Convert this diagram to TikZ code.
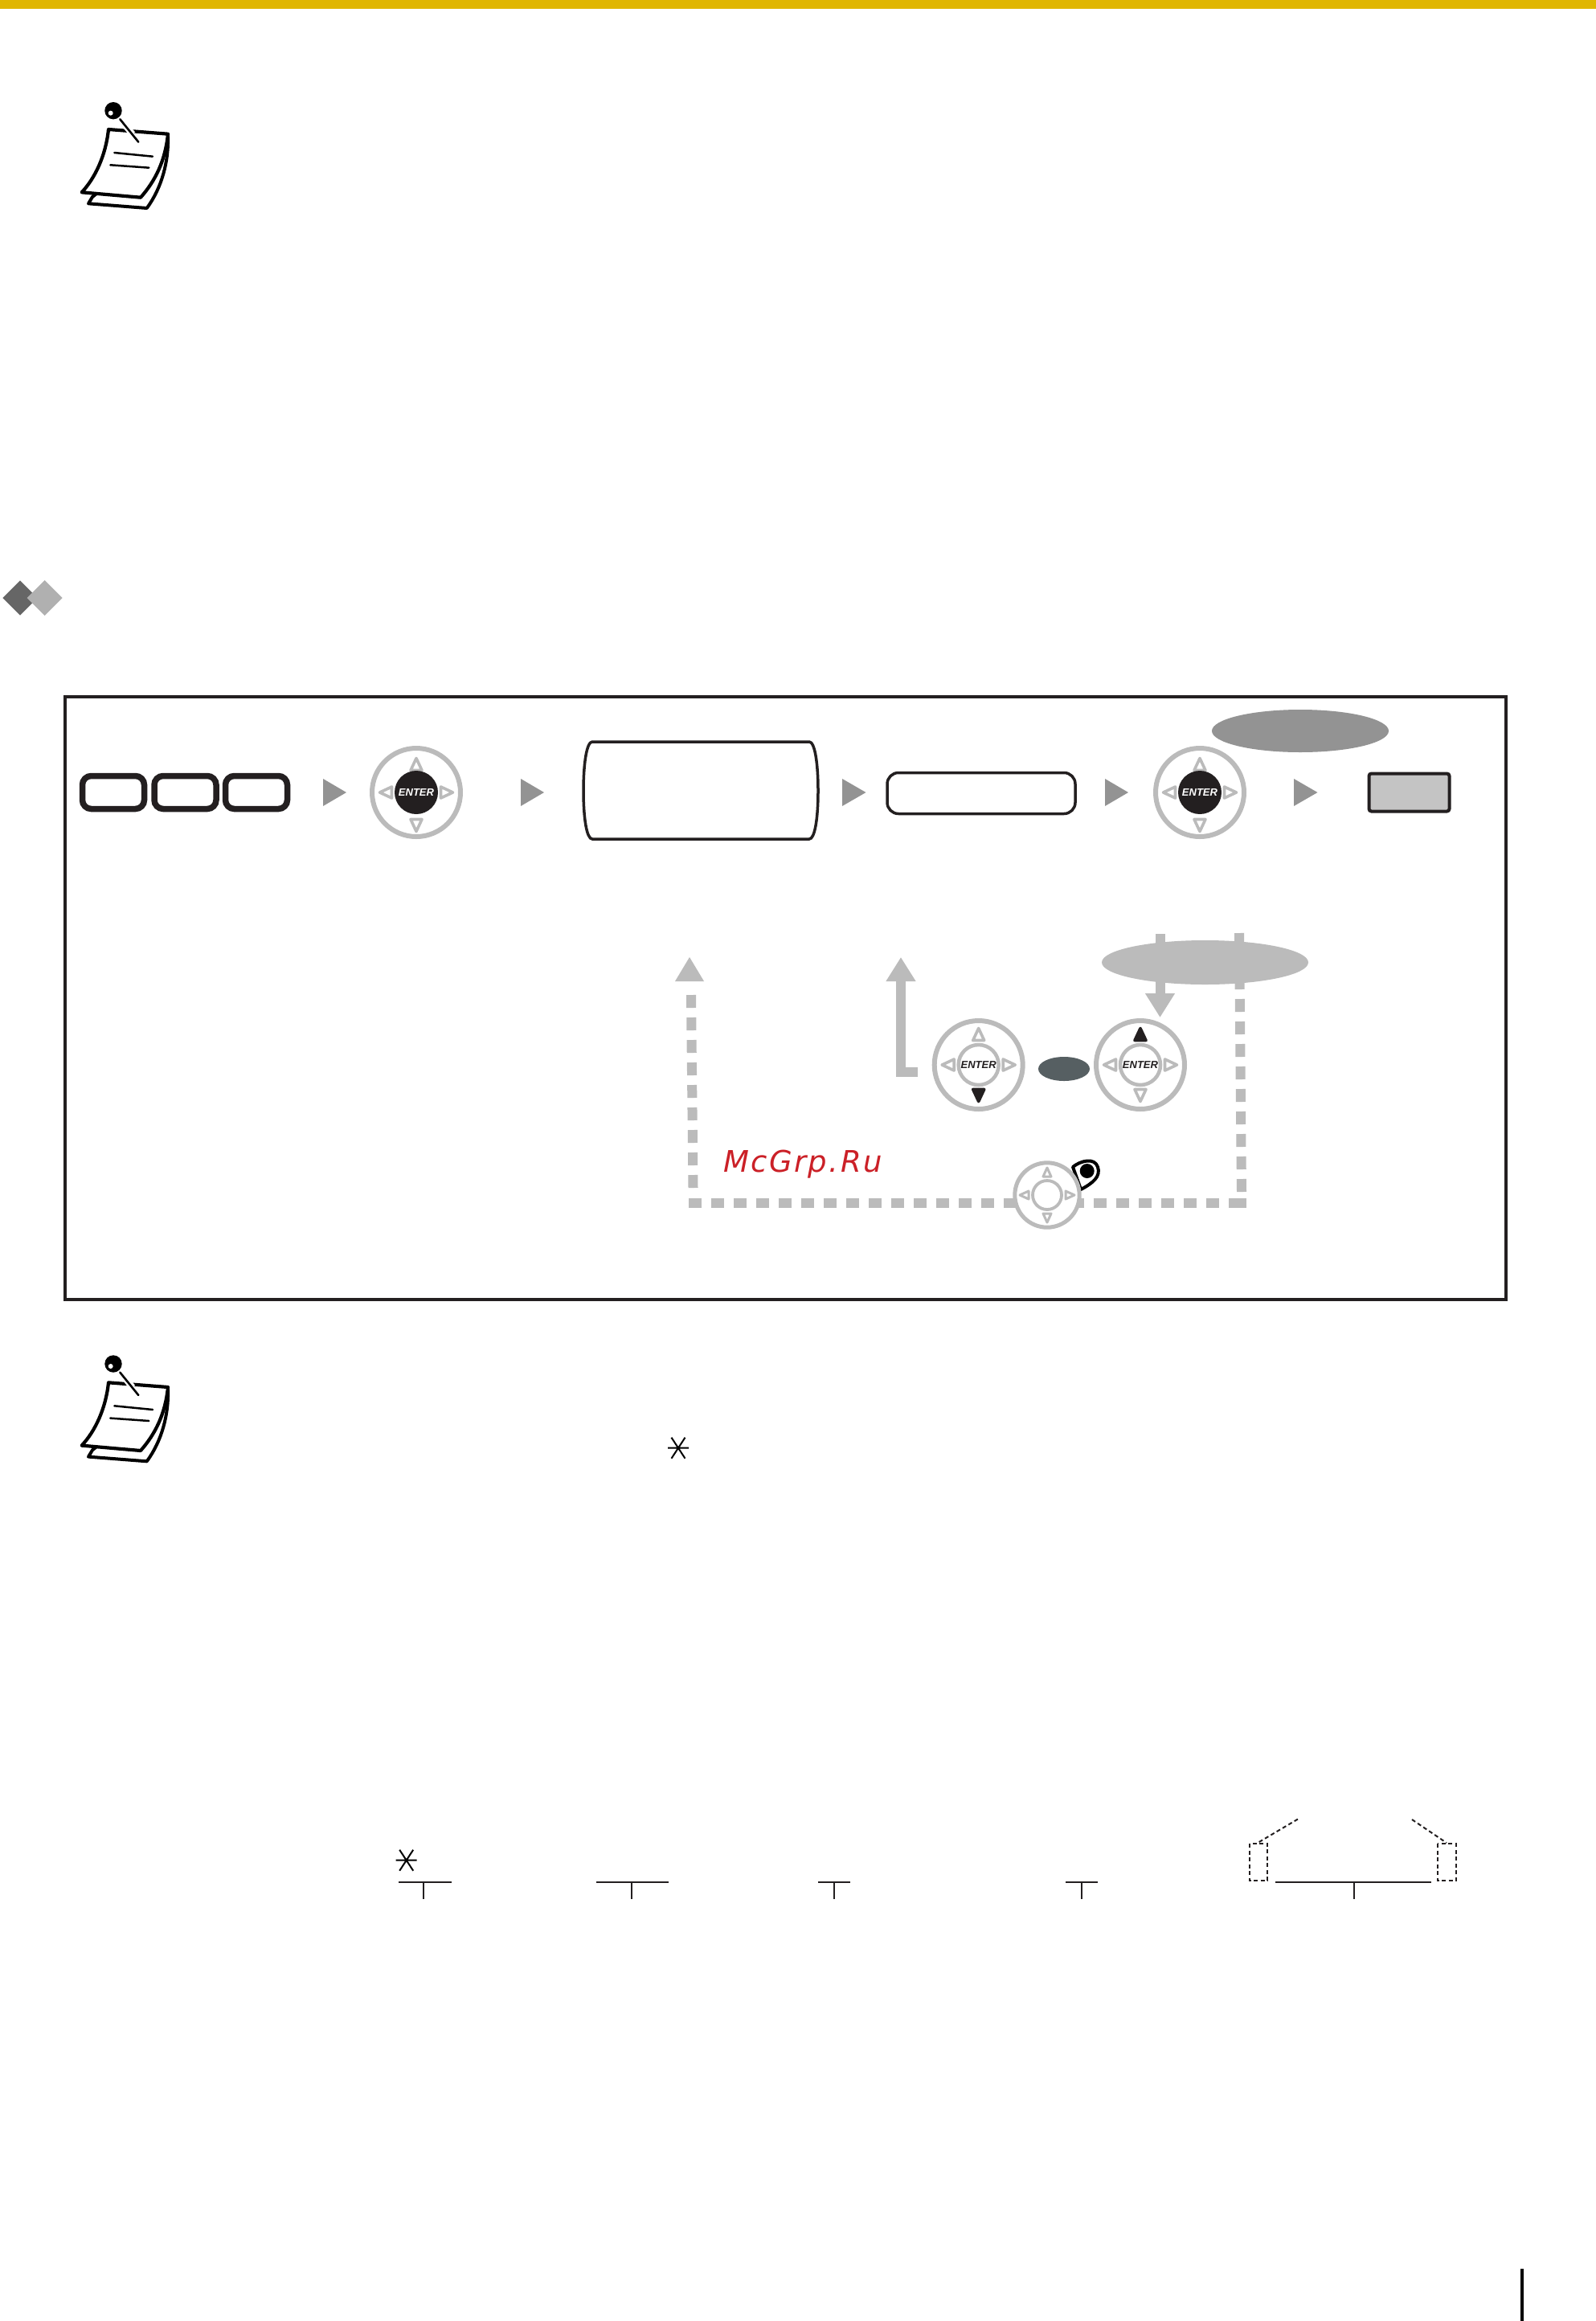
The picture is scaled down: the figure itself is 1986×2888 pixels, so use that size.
\documentclass[tikz,border=0pt]{standalone}
\usepackage{fontspec}
\usetikzlibrary{shapes.geometric,arrows.meta}
\newfontfamily\labelfont{Liberation Sans}
\newfontfamily\markfont[LetterSpace=6.5]{DejaVu Sans}
\definecolor{barY}{HTML}{E0B600}
\definecolor{midG}{HTML}{939393}
\definecolor{lightG}{HTML}{BBBBBB}
\definecolor{darkK}{HTML}{231F20}
\definecolor{slateG}{HTML}{565F62}
\definecolor{fillG}{HTML}{C4C4C4}
\definecolor{markR}{HTML}{CB2027}
\definecolor{diaA}{HTML}{666666}
\definecolor{diaB}{HTML}{B0B0B0}
\tikzset{
  x=1pt,y=-1pt,
  flowtip/.style={fill=midG,draw=none},
  oval/.style={shape=ellipse,draw=none,inner sep=0pt,outer sep=0pt},
  keycap/.style={draw=darkK,line width=7.5pt,rounded corners=11pt,fill=white},
  boxed/.style={draw=darkK,line width=3.5pt,fill=white},
  ring/.style={draw=lightG,line width=6pt,fill=white},
  hollowtri/.style={draw=lightG,line width=3.6pt,line join=round,fill=white},
  solidtri/.style={draw=darkK,fill=darkK,line width=3.6pt,line join=round},
  dashconn/.style={draw=lightG,line width=12pt,dash pattern=on 16pt off 12pt},
  solidconn/.style={draw=lightG,line width=12pt},
  smallline/.style={draw=darkK,line width=2.3pt},
  dotline/.style={draw=darkK,line width=2pt,dash pattern=on 5pt off 3.5pt},
  enterlabel/.style={font=\labelfont\bfseries\itshape\fontsize{13}{13}\selectfont,inner sep=0pt},
  pics/tri/.style={code={\draw[#1] (0,-45.5)--(7,-30.5)--(-7,-30.5)--cycle;}},
  pics/dpadbase/.style={code={
    \draw[ring] (0,0) circle (55);
    \path (0,0) pic[rotate=90]{tri=hollowtri} pic[rotate=270]{tri=hollowtri};
  }},
  pics/note/.style={code={
    \draw[draw=black,line width=4pt,line join=round,fill=white] (115,245)--(110,253.3)--(182.7,259)
       .. controls (201.7,233.3) and (210,200) .. (209,170)--cycle;
    \draw[draw=black,line width=4.2pt,line join=round,fill=white] (135,161)--(209,166.7)
       .. controls (205.7,200) and (193.3,225) .. (175,245.7)
       -- (101.7,239.3)
       .. controls (118.3,221.7) and (131.7,193.3) .. (135,161)--cycle;
    \draw[black,line width=2.5pt,line cap=round] (142.3,190)--(190,194.7) (137.3,205.3)--(185.3,208.7);
    \draw[white,line width=8pt] (151,150)--(165,167);
    \draw[black,line width=2.6pt,line cap=round] (149.3,148.3)--(172.3,176.7);
    \fill[black] (141,137.7) circle (10.7);
    \fill[white] (137.7,140.7) circle (3);
  }},
  pics/star/.style={code={
    \draw[black,line width=2pt] (-13,0)--(13,0) (-8.5,-13)--(8.5,13) (8.5,-13)--(-8.5,13);
  }},
}
\begin{document}
\begin{tikzpicture}
\useasboundingbox (0,0) rectangle (1986,2888);
\fill[white] (0,0) rectangle (1986,2888);
% top rule
\fill[barY] (0,0) rectangle (1986,11);
% note icons
\pic at (0,0) {note};
\pic at (0,1559.3) {note};
% heading diamonds
\fill[diaA] (25,722.3)--(46.7,744)--(25,765.7)--(3.3,744)--cycle;
\fill[diaB] (55.7,722)--(77.7,744)--(55.7,766)--(33.7,744)--cycle;
% frame
\node[draw=darkK,line width=4pt,inner sep=0pt,outer sep=0pt,minimum width=1793pt,minimum height=750pt,anchor=north west] (frame) at (80.5,867) {};
% top row
\node[keycap,minimum width=77pt,minimum height=41pt,inner sep=0pt] (key1) at (141,986) {};
\node[keycap,minimum width=77pt,minimum height=41pt,inner sep=0pt] (key2) at (230.5,986) {};
\node[keycap,minimum width=77pt,minimum height=41pt,inner sep=0pt] (key3) at (319,986) {};
\fill[flowtip] (402,969)--(431,986)--(402,1003)--cycle;
% dial 1
\begin{scope}[shift={(518,986)}]
  \path (0,0) pic{dpadbase};
  \path (0,3) pic{tri=hollowtri};
  \path (0,3) pic[rotate=180]{tri=hollowtri};
  \fill[darkK] (0,0) circle (27);
  \node[enterlabel,white] (enterA) at (0,0) {ENTER};
\end{scope}
\fill[flowtip] (648,969)--(677,986)--(648,1003)--cycle;
% display
\draw[boxed,line width=3.5pt,fill=white] (737,923)--(1007,923)
   .. controls (1014,923) and (1018,950) .. (1018,984)
   .. controls (1018,1018) and (1014,1044) .. (1007,1044)
   -- (737,1044)
   .. controls (730,1044) and (726,1018) .. (726,984)
   .. controls (726,950) and (730,923) .. (737,923)--cycle;
\fill[flowtip] (1048,969)--(1077.5,986)--(1048,1003)--cycle;
\node[boxed,rounded corners=14pt,minimum width=234pt,minimum height=51pt,inner sep=0pt] (entrybox) at (1221,987) {};
\fill[flowtip] (1375,969)--(1404,986)--(1375,1003)--cycle;
% dial 2
\begin{scope}[shift={(1493,986)}]
  \path (0,0) pic{dpadbase};
  \path (0,3) pic{tri=hollowtri};
  \path (0,3) pic[rotate=180]{tri=hollowtri};
  \fill[darkK] (0,0) circle (27);
  \node[enterlabel,white] (enterB) at (0,0) {ENTER};
\end{scope}
\node[oval,fill=midG,minimum width=220pt,minimum height=53pt] (topoval) at (1618,909.5) {};
\fill[flowtip] (1610,969)--(1639.5,986)--(1610,1003)--cycle;
\node[draw=darkK,line width=4pt,rounded corners=3pt,fill=fillG,minimum width=100pt,minimum height=47pt,inner sep=0pt] (result) at (1753.5,986) {};
% connectors
\coordinate (dashBL) at (862.5,1478);
\coordinate (dashTL) at (860,1238);
\coordinate (cornerL) at (857,1496.5);
\coordinate (cornerR) at (1545,1496.5);
\coordinate (cornerRR) at (1551,1496.5);
\coordinate (dashBR) at (1545,1483);
\coordinate (dashTR) at (1542,1161);
\draw[dashconn] (cornerL)--(cornerR);
\draw[lightG,line width=12pt] (cornerR)--(cornerRR);
\draw[dashconn] (dashBL)--(dashTL);
\draw[dashconn] (dashBR)--(dashTR);
\fill[lightG] (858,1191)--(876,1221)--(840,1221)--cycle;
\coordinate (upFoot) at (1142,1334);
\coordinate (upElbow) at (1121,1334);
\coordinate (upTop) at (1121,1191);
\draw[solidconn,-{Triangle[length=30pt,width=35pt]}] (upFoot)--(upElbow)--(upTop);
\coordinate (downTop) at (1443.5,1162);
\coordinate (downEnd) at (1443.5,1266);
\draw[solidconn,-{Triangle[length=30pt,width=35pt]}] (downTop)--(downEnd);
\node[oval,fill=lightG,minimum width=257pt,minimum height=55pt] (lightoval) at (1499.5,1197.5) {};
% lower dials
\begin{scope}[shift={(1217.7,1325)}]
  \path (0,0) pic{dpadbase};
  \path (0,0) pic{tri=hollowtri};
  \path (0,0) pic[rotate=180]{tri=solidtri};
  \draw[lightG,line width=4.5pt,fill=white] (0,0) circle (25);
  \node[enterlabel,darkK] (enterC) at (0,0) {ENTER};
\end{scope}
\node[oval,fill=slateG,minimum width=64pt,minimum height=30pt] (andoval) at (1324,1330) {};
\begin{scope}[shift={(1419,1325)}]
  \path (0,0) pic{dpadbase};
  \path (0,0) pic{tri=solidtri};
  \path (0,0) pic[rotate=180]{tri=hollowtri};
  \draw[lightG,line width=4.5pt,fill=white] (0,0) circle (25);
  \node[enterlabel,darkK] (enterD) at (0,0) {ENTER};
\end{scope}
% tag behind small dial
\draw[black,line width=4pt,fill=white,line join=round] (1335,1452)
   .. controls (1345,1444) and (1362,1440) .. (1366,1452)
   .. controls (1370,1464) and (1360,1472) .. (1345,1480)--cycle;
\fill[black] (1352.7,1457) circle (9);
% small dial
\begin{scope}[shift={(1303,1487)}]
  \draw[draw=lightG,line width=5pt,fill=white] (0,0) circle (40.2);
  \foreach \a in {0,90,180,270}{
    \begin{scope}[rotate=\a]
      \draw[lightG,line width=3pt,line join=round,fill=white] (0,-34)--(5,-23)--(-5,-23)--cycle;
    \end{scope}
  }
  \draw[lightG,line width=3.8pt,fill=white] (0,0) circle (18);
\end{scope}
% watermark
\node[font=\markfont\itshape\fontsize{37}{37}\selectfont,text=markR,inner sep=0pt,anchor=base west] (mark) at (900,1458) {McGrp.Ru};
% asterisks
\pic at (844,1801.7) {star};
\pic at (505.7,2314.7) {star};
% brackets
\coordinate (b1l) at (496,2342); \coordinate (b1r) at (561.5,2342); \coordinate (b1m) at (526.7,2342); \coordinate (b1s) at (526.7,2363);
\draw[smallline] (b1l)--(b1r) (b1m)--(b1s);
\coordinate (b2l) at (742,2342); \coordinate (b2r) at (831.6,2342); \coordinate (b2m) at (786,2342); \coordinate (b2s) at (786,2363);
\draw[smallline] (b2l)--(b2r) (b2m)--(b2s);
\coordinate (b3l) at (1018,2342); \coordinate (b3r) at (1058,2342); \coordinate (b3m) at (1038,2342); \coordinate (b3s) at (1038,2363);
\draw[smallline] (b3l)--(b3r) (b3m)--(b3s);
\coordinate (b4l) at (1326,2342); \coordinate (b4r) at (1365.6,2342); \coordinate (b4m) at (1346,2342); \coordinate (b4s) at (1346,2363);
\draw[smallline] (b4l)--(b4r) (b4m)--(b4s);
\coordinate (b5l) at (1587,2342); \coordinate (b5r) at (1780.7,2342); \coordinate (b5m) at (1685,2342); \coordinate (b5s) at (1685,2363);
\draw[smallline] (b5l)--(b5r) (b5m)--(b5s);
% dashed houses
\draw[dotline] (1555,2294) rectangle (1577,2340);
\draw[dotline] (1789,2294) rectangle (1811.6,2340);
\draw[dotline] (1566.7,2292)--(1615.8,2263);
\draw[dotline] (1757,2264)--(1800,2293);
% page edge rule
\draw[black,line width=4pt] (1894,2823)--(1894,2888);
\end{tikzpicture}
\end{document}
